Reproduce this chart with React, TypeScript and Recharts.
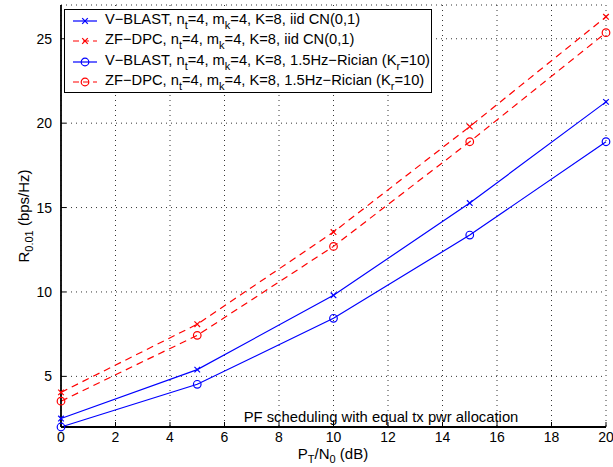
import { LineChart, Line, XAxis, YAxis, CartesianGrid, Customized } from "recharts";

const xValues = [0, 5, 10, 15, 20];
const vblastIid = [2.5, 5.4, 9.8, 15.27, 21.26];
const zfdpcIid = [4.05, 8.09, 13.55, 19.8, 26.3];
const vblastRician = [2.0, 4.53, 8.44, 13.37, 18.9];
const zfdpcRician = [3.53, 7.43, 12.7, 18.9, 25.36];

const xTicks = [0, 2, 4, 6, 8, 10, 12, 14, 16, 18, 20];
const yTicks = [5, 10, 15, 20, 25];

const BLUE = "#0000ff";
const RED = "#ff0000";
const FONT = "'Liberation Sans', Arial, sans-serif";

type Series = {
  key: string;
  values: number[];
  color: string;
  dashed: boolean;
  marker: "x" | "o";
  name: string;
  tail: string;
  sub: string;
};

const series: Series[] = [
  { key: "vbIid", values: vblastIid, color: BLUE, dashed: false, marker: "x", name: "V−BLAST", tail: "iid CN(0,1)", sub: "" },
  { key: "zfIid", values: zfdpcIid, color: RED, dashed: true, marker: "x", name: "ZF−DPC", tail: "iid CN(0,1)", sub: "" },
  { key: "vbRic", values: vblastRician, color: BLUE, dashed: false, marker: "o", name: "V−BLAST", tail: "1.5Hz−Rician (K", sub: "r" },
  { key: "zfRic", values: zfdpcRician, color: RED, dashed: true, marker: "o", name: "ZF−DPC", tail: "1.5Hz−Rician (K", sub: "r" },
];

const data = xValues.map((x, i) => {
  const row: Record<string, number> = { x };
  series.forEach((s) => (row[s.key] = s.values[i]));
  return row;
});

function Marker({ cx, cy, kind, color }: { cx: number; cy: number; kind: "x" | "o"; color: string }) {
  if (kind === "o") {
    return <circle cx={cx} cy={cy} r={3.8} fill="none" stroke={color} strokeWidth={1.2} />;
  }
  const d = 2.8;
  return (
    <g stroke={color} strokeWidth={1.2}>
      <line x1={cx - d} y1={cy - d} x2={cx + d} y2={cy + d} />
      <line x1={cx - d} y1={cy + d} x2={cx + d} y2={cy - d} />
    </g>
  );
}

function Annotation() {
  return (
    <g fontFamily={FONT}>
      <text x={381} y={422} textAnchor="middle" fontSize={14.8} fill="#000">
        PF scheduling with equal tx pwr allocation
      </text>
      <text x={333} y={459} textAnchor="middle" fontSize={15} fill="#000">
        P<tspan fontSize={11} dy={4}>T</tspan>
        <tspan dy={-4}>/N</tspan>
        <tspan fontSize={11} dy={4}>0</tspan>
        <tspan dy={-4}> (dB)</tspan>
      </text>
      <text x={0} y={0} transform="translate(29,216) rotate(-90)" textAnchor="middle" fontSize={15} fill="#000">
        R<tspan fontSize={11} dy={4}>0.01</tspan>
        <tspan dy={-4}> (bps/Hz)</tspan>
      </text>
    </g>
  );
}

function LegendBox() {
  const subStyle = { fontSize: 11, verticalAlign: -5 };
  return (
    <div
      style={{
        position: "absolute",
        left: 64,
        top: 9,
        width: 366,
        height: 81,
        border: "1.5px solid #000",
        background: "#fff",
        fontFamily: FONT,
        fontSize: 14.7,
        paddingTop: 1,
        boxSizing: "content-box",
        overflow: "visible",
      }}
    >
      {series.map((s) => (
        <div key={s.key} style={{ height: 20.3, display: "flex", alignItems: "center", whiteSpace: "nowrap" }}>
          <svg width={40} height={14} style={{ flexShrink: 0 }}>
            <line x1={8} y1={7} x2={32} y2={7} stroke={s.color} strokeWidth={1.2} strokeDasharray={s.dashed ? "6 4" : undefined} />
            <Marker cx={20} cy={7} kind={s.marker} color={s.color} />
          </svg>
          <span style={{ flexShrink: 0 }}>
            {s.name}, n<sub style={subStyle}>t</sub>=4, m<sub style={subStyle}>k</sub>=4, K=8, {s.tail}
            {s.sub && (
              <>
                <sub style={subStyle}>{s.sub}</sub>=10)
              </>
            )}
          </span>
        </div>
      ))}
    </div>
  );
}

export default function App() {
  const tickStyle = { fontSize: 14, fill: "#000", fontFamily: FONT };
  return (
    <div style={{ position: "absolute", left: 0, top: 0, width: 613, height: 467, background: "#fff" }}>
      <LineChart width={613} height={467} data={data} margin={{ top: 5, right: 7, left: 0, bottom: 0 }}>
        <CartesianGrid stroke="#000" strokeDasharray="1 4" strokeWidth={0.8} />
        <XAxis
          dataKey="x"
          type="number"
          domain={[0, 20]}
          ticks={xTicks}
          height={40}
          tick={tickStyle}
          tickSize={-5}
          tickMargin={10}
          axisLine={{ stroke: "#000", strokeWidth: 1.8 }}
          tickLine={{ stroke: "#000" }}
        />
        <XAxis
          xAxisId="top"
          dataKey="x"
          type="number"
          orientation="top"
          domain={[0, 20]}
          ticks={xTicks}
          height={0}
          tickSize={-5}
          tickFormatter={() => ""}
          axisLine={{ stroke: "#000", strokeWidth: 1.8 }}
          tickLine={{ stroke: "#000" }}
        />
        <YAxis
          type="number"
          domain={[2, 27]}
          ticks={yTicks}
          width={61}
          tick={tickStyle}
          tickSize={-5}
          tickMargin={14}
          axisLine={{ stroke: "#000", strokeWidth: 1.8 }}
          tickLine={{ stroke: "#000" }}
        />
        <YAxis
          yAxisId="right"
          type="number"
          orientation="right"
          domain={[2, 27]}
          ticks={yTicks}
          width={0}
          tickSize={-5}
          tickFormatter={() => ""}
          axisLine={{ stroke: "#000", strokeWidth: 1.8 }}
          tickLine={{ stroke: "#000" }}
        />
        {series.map((s) => (
          <Line
            key={s.key}
            dataKey={s.key}
            type="linear"
            stroke={s.color}
            strokeWidth={1.2}
            strokeDasharray={s.dashed ? "7 5" : undefined}
            isAnimationActive={false}
            dot={(p: any) => <Marker key={`${s.key}-${p.index}`} cx={p.cx} cy={p.cy} kind={s.marker} color={s.color} />}
            activeDot={false}
          />
        ))}
        <Customized component={Annotation} />
      </LineChart>
      <LegendBox />
    </div>
  );
}
